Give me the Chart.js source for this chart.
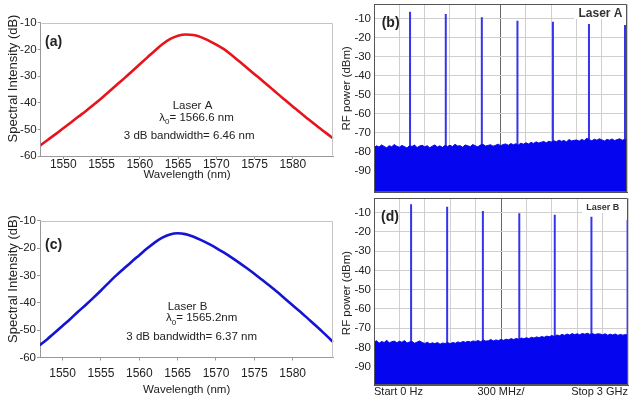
<!DOCTYPE html>
<html>
<head>
<meta charset="utf-8">
<script src="https://cdn.jsdelivr.net/npm/chart.js@4.4.0/dist/chart.umd.min.js"></script>
<style>
  body { margin: 0; background: #fff; width: 636px; height: 405px; position: relative; overflow: hidden; }
  canvas { position: absolute; }
</style>
</head>
<body>
<canvas id="chartA" style="left:0;top:0" width="338" height="200"></canvas>
<canvas id="chartB" style="left:338px;top:0" width="298" height="197"></canvas>
<canvas id="chartC" style="left:0;top:200px" width="338" height="205"></canvas>
<canvas id="chartD" style="left:338px;top:197px" width="298" height="208"></canvas>
<script>
// --- DATA: optical spectra ---
const wavelengthsNm = [1547, 1548, 1549, 1550, 1551, 1552, 1553, 1554, 1555, 1556,
  1557, 1558, 1559, 1560, 1561, 1562, 1563, 1564, 1565, 1566,
  1567, 1568, 1569, 1570, 1571, 1572, 1573, 1574, 1575, 1576,
  1577, 1578, 1579, 1580, 1581, 1582, 1583, 1584, 1585, 1585.3];
const laserA_dB = [-56.0, -53.9, -51.8, -49.6, -47.4, -45.2, -43.0, -40.7, -38.3, -35.8,
  -33.3, -30.8, -28.2, -25.6, -23.0, -20.4, -18.0, -16.1, -14.9, -14.4,
  -14.6, -15.4, -16.7, -18.2, -19.9, -22.1, -24.5, -26.9, -29.3, -31.7,
  -34.1, -36.6, -39.0, -41.4, -43.8, -46.1, -48.4, -50.6, -52.8, -53.5];
const laserB_dB = [-55.5, -53.3, -50.9, -48.4, -45.9, -43.3, -40.8, -38.2, -35.5, -32.7,
  -30.0, -27.5, -25.0, -22.6, -20.2, -18.0, -16.2, -15.0, -14.6, -14.9,
  -15.8, -17.0, -18.4, -19.9, -21.6, -23.4, -25.3, -27.3, -29.4, -31.6,
  -33.8, -36.1, -38.5, -40.9, -43.3, -45.8, -48.3, -50.9, -53.6, -54.4];
const wavelengthTicks = [1550, 1555, 1560, 1565, 1570, 1575, 1580];
const opticalDbTicks = [-60, -50, -40, -30, -20, -10];

// --- DATA: RF spectra (0 - 3 GHz) ---
const floorStepGHz = 0.03;
const floorB_dBm = [-77.8, -76.9, -77.5, -76.4, -77.2, -77.9, -76.8, -77.4, -76.2, -77.1,
  -77.6, -76.7, -77.3, -78.0, -76.9, -77.2, -76.5, -77.8, -77.0, -76.6,
  -77.4, -76.8, -77.9, -77.1, -76.4, -77.5, -76.9, -77.7, -76.7, -77.2,
  -76.6, -77.3, -76.1, -77.0, -76.8, -77.6, -76.4, -76.9, -77.3, -76.2,
  -76.9, -77.4, -76.5, -76.1, -77.0, -76.7, -76.3, -77.1, -76.6, -76.0,
  -76.8, -76.2, -75.9, -76.6, -75.7, -76.3, -75.8, -76.4, -75.5, -76.0,
  -75.3, -75.9, -75.1, -75.6, -74.8, -75.4, -75.0, -74.6, -75.3, -74.5,
  -74.9, -74.2, -74.7, -73.9, -74.5, -74.1, -74.8, -73.6, -74.3, -74.0,
  -73.8, -74.4, -73.5, -74.1, -72.9, -73.7, -74.2, -73.4, -73.9, -73.2,
  -73.8, -74.3, -73.5, -73.9, -73.3, -74.1, -73.6, -73.2, -73.9, -73.5,
  -73.7];
const floorD_dBm = [-77.2, -76.5, -77.8, -76.9, -77.4, -76.3, -77.6, -77.0, -76.7, -77.5,
  -76.8, -77.3, -76.4, -77.7, -77.1, -76.9, -77.8, -77.2, -76.6, -77.4,
  -77.9, -77.3, -78.1, -77.6, -78.0, -77.4, -78.3, -77.7, -77.9, -77.5,
  -78.0, -77.4, -77.8, -77.1, -77.5, -76.9, -77.3, -76.8, -77.2, -76.6,
  -76.9, -76.4, -77.0, -76.2, -76.7, -76.5, -75.9, -76.6, -76.1, -76.4,
  -75.8, -76.3, -75.7, -76.0, -75.4, -75.9, -75.3, -75.7, -75.1, -75.5,
  -74.9, -75.4, -74.7, -75.1, -74.5, -74.9, -74.3, -74.7, -74.1, -74.4,
  -73.8, -74.3, -73.5, -73.9, -73.2, -73.7, -73.0, -73.5, -72.8, -73.3,
  -72.9, -73.4, -72.7, -73.1, -72.6, -73.2, -72.8, -73.3, -72.9, -73.0,
  -73.4, -72.9, -73.6, -73.1, -73.5, -73.0, -73.7, -73.2, -73.6, -73.3,
  -73.5];
const peakFreqB_GHz = [0.427, 0.850, 1.277, 1.699, 2.119, 2.546, 2.973];
const peakLevelB_dBm = [-6.2, -7.4, -9.1, -10.9, -11.4, -12.6, -13.2];
const peakFreqD_GHz = [0.438, 0.864, 1.286, 1.716, 2.135, 2.568, 2.995];
const peakLevelD_dBm = [-5.6, -6.9, -9.1, -10.3, -11.0, -12.1, -13.8];
const freqTicksGHz = [0, 0.3, 0.6, 0.9, 1.2, 1.5, 1.8, 2.1, 2.4, 2.7, 3.0];
const freqTickLabels = ['Start 0 Hz', '', '', '', '', '300 MHz/', '', '', '', '', 'Stop 3 GHz'];
const rfDbTicks = [-90, -80, -70, -60, -50, -40, -30, -20, -10];

// --- SHARED SETUP ---
const FAMILY = 'Arial, "Liberation Sans", sans-serif';
Chart.defaults.font.family = FAMILY;
Chart.defaults.color = '#222';

const fixedTicks = (values) => (scale) => { scale.ticks = values.map(v => ({ value: v })); };

// fixed axis size, and no extra room reserved for the end labels
const fixSize = (prop, size) => (scale) => {
  scale[prop] = size;
  scale.paddingTop = 0; scale.paddingBottom = 0;
  scale.paddingLeft = 0; scale.paddingRight = 0;
};

// frame, y title and text overlays for each panel
const panelDecor = {
  id: 'panelDecor',
  afterDatasetsDraw(chart, args, opts) {
    const { ctx, chartArea: a } = chart;
    const L = Math.round(a.left) + 0.5, R = Math.round(a.right) - 0.5;
    const T = Math.round(a.top) + 0.5, B = Math.round(a.bottom) - 0.5;
    ctx.save();
    ctx.lineWidth = 1;
    ctx.strokeStyle = opts.frameColor;
    ctx.beginPath();
    if (opts.fullFrame) {
      ctx.rect(L, T, R - L, B - T);
    } else {
      ctx.moveTo(L, T); ctx.lineTo(R, T); ctx.lineTo(R, B);
    }
    ctx.stroke();

    ctx.textBaseline = 'middle';
    if (opts.yTitle) {
      const t = opts.yTitle;
      ctx.save();
      ctx.translate(t.x, t.y);
      ctx.rotate(-Math.PI / 2);
      ctx.font = t.font; ctx.textAlign = 'center'; ctx.fillStyle = '#222';
      ctx.fillText(t.text, 0, 0);
      ctx.restore();
    }

    (opts.texts || []).forEach(t => {
      ctx.font = t.font;
      ctx.textAlign = t.align || 'center';
      if (t.box) {
        ctx.fillStyle = '#fff';
        ctx.fillRect(t.box[0], t.box[1], t.box[2], t.box[3]);
      }
      ctx.fillStyle = t.color || '#222';
      ctx.fillText(t.text, t.x, t.y);
    });

    // λ0 line with a real subscript
    if (opts.lambda) {
      const l = opts.lambda;
      const big = '11.5px ' + FAMILY;
      const small = '8px ' + FAMILY;
      ctx.font = big; const w1 = ctx.measureText('λ').width;
      const w3 = ctx.measureText(l.rest).width;
      ctx.font = small; const w2 = ctx.measureText('0').width;
      let x = l.x - (w1 + w2 + w3) / 2;
      ctx.textAlign = 'left';
      ctx.fillStyle = '#222';
      ctx.font = big; ctx.fillText('λ', x, l.y); x += w1;
      ctx.font = small; ctx.fillText('0', x, l.y + 4); x += w2;
      ctx.font = big; ctx.fillText(l.rest, x, l.y);
    }
    ctx.restore();
  }
};

// --- OPTICAL SPECTRUM PANELS ---
function opticalChart(id, values, color, cfg) {
  return new Chart(document.getElementById(id), {
    type: 'line',
    data: {
      datasets: [{
        data: wavelengthsNm.map((x, i) => ({ x: x, y: values[i] })),
        borderColor: color,
        borderWidth: 2.6,
        pointRadius: 0,
        cubicInterpolationMode: 'monotone'
      }]
    },
    options: {
      responsive: false, animation: false, devicePixelRatio: 1,
      layout: { padding: cfg.padding },
      plugins: {
        legend: { display: false },
        tooltip: { enabled: false },
        panelDecor: {
          frameColor: '#c4c4c4', texts: cfg.texts, lambda: cfg.lambda,
          yTitle: { text: 'Spectral Intensity (dB)', x: 13.3, y: cfg.yTitleY, font: '13px ' + FAMILY }
        }
      },
      scales: {
        x: {
          type: 'linear', min: 1547.05, max: 1585.3,
          afterBuildTicks: fixedTicks(wavelengthTicks),
          afterFit: fixSize('height', cfg.xHeight),
          grid: { drawOnChartArea: false, tickLength: 3, color: '#999' },
          border: { color: '#999' },
          ticks: { padding: cfg.xTickPad, font: { size: 12 }, color: '#222', callback: v => String(v) },
          title: { display: true, text: 'Wavelength (nm)', padding: 0, font: { size: 11.5 }, color: '#222' }
        },
        y: {
          min: -60, max: -10,
          afterBuildTicks: fixedTicks(opticalDbTicks),
          afterFit: fixSize('width', cfg.yWidth),
          grid: { drawOnChartArea: false, tickLength: 3, color: '#999' },
          border: { color: '#999' },
          ticks: { padding: 1, font: { size: 11.5 }, color: '#222', callback: v => String(v) }
        }
      }
    },
    plugins: [panelDecor]
  });
}

// --- RF SPECTRUM PANELS ---
function peakSegments(freqs, levels, base) {
  const pts = [];
  freqs.forEach((f, i) => { pts.push({ x: f, y: base }, { x: f, y: levels[i] }, { x: f, y: null }); });
  return pts;
}

function rfChart(id, floor, peakFreqs, peakLevels, cfg) {
  return new Chart(document.getElementById(id), {
    type: 'line',
    data: {
      datasets: [
        {
          data: floor.map((v, i) => ({ x: i * floorStepGHz, y: v })),
          borderColor: '#0a0af2', backgroundColor: '#0505f0', borderWidth: 1,
          pointRadius: 0, fill: 'start'
        },
        {
          // drawn first, so the floor fill hides the part below the noise
          data: peakSegments(peakFreqs, peakLevels, -85),
          borderColor: '#3434ec', borderWidth: 2, pointRadius: 0, spanGaps: false
        }
      ]
    },
    options: {
      responsive: false, animation: false, devicePixelRatio: 1,
      layout: { padding: cfg.padding },
      plugins: {
        legend: { display: false },
        tooltip: { enabled: false },
        panelDecor: {
          frameColor: '#555', fullFrame: true, texts: cfg.texts,
          yTitle: { text: 'RF power (dBm)', x: 8.7, y: cfg.yTitleY, font: '11.5px ' + FAMILY }
        }
      },
      scales: {
        x: {
          type: 'linear', min: 0, max: 3,
          afterBuildTicks: fixedTicks(freqTicksGHz),
          afterFit: fixSize('height', cfg.xHeight),
          grid: { drawTicks: false, color: ctx => ctx.index === 5 ? '#666' : '#cfcfcf' },
          border: { color: '#555' },
          ticks: {
            display: cfg.showFreqLabels, padding: cfg.xTickPad, align: 'inner', maxRotation: 0, autoSkip: false,
            font: { size: 11 }, color: '#222',
            callback: (v, i) => freqTickLabels[i]
          }
        },
        y: {
          min: cfg.yMin, max: cfg.yMax,
          afterBuildTicks: fixedTicks(rfDbTicks),
          afterFit: fixSize('width', 36),
          grid: { drawTicks: false, color: '#cfcfcf' },
          border: { color: '#555' },
          ticks: { padding: 3, font: { size: 11.5 }, color: '#222', callback: v => String(v) }
        }
      }
    },
    plugins: [panelDecor]
  });
}

const BOLD14 = 'bold 14px ' + FAMILY;
const NOTE = '11.5px ' + FAMILY;

opticalChart('chartA', laserA_dB, '#e8141c', {
  padding: { left: 0, top: 22.7, right: 4.7, bottom: 18.1 },
  xHeight: 25.9, yWidth: 40.7, xTickPad: -2, yTitleY: 78.5,
  texts: [
    { text: '(a)', x: 45, y: 41.7, font: BOLD14, align: 'left' },
    { text: 'Laser A', x: 192.5, y: 106, font: NOTE },
    { text: '3 dB bandwidth= 6.46 nm', x: 189.2, y: 136, font: NOTE }
  ],
  lambda: { x: 196.5, y: 118, rest: '= 1566.6 nm' }
});

opticalChart('chartC', laserB_dB, '#1414d2', {
  padding: { left: 0, top: 20.7, right: 4.7, bottom: 8.4 },
  xHeight: 39.1, yWidth: 40, xTickPad: 6, yTitleY: 79,
  texts: [
    { text: '(c)', x: 45, y: 45, font: BOLD14, align: 'left' },
    { text: 'Laser B', x: 187.5, y: 107.3, font: NOTE },
    { text: '3 dB bandwidth= 6.37 nm', x: 191.7, y: 136.7, font: NOTE }
  ],
  lambda: { x: 201.7, y: 118.3, rest: '= 1565.2nm' }
});

rfChart('chartB', floorB_dBm, peakFreqB_GHz, peakLevelB_dBm, {
  padding: { left: 0, top: 4, right: 8.7, bottom: 4.7 },
  xHeight: 0, xTickPad: 0, showFreqLabels: false, yMin: -101.4, yMax: -2.1, yTitleY: 88.3,
  texts: [
    { text: '(b)', x: 43.7, y: 22.7, font: BOLD14, align: 'left' },
    { text: 'Laser A', x: 262.5, y: 13.3, font: 'bold 12px ' + FAMILY, color: '#333', box: [236, 5, 52, 14] }
  ]
});

rfChart('chartD', floorD_dBm, peakFreqD_GHz, peakLevelD_dBm, {
  padding: { left: 0, top: 1.3, right: 8, bottom: 0 },
  xHeight: 20, xTickPad: 0, showFreqLabels: true, yMin: -99.5, yMax: -2.5, yTitleY: 96,
  texts: [
    { text: '(d)', x: 43, y: 19.7, font: BOLD14, align: 'left' },
    { text: 'Laser B', x: 264.7, y: 10.7, font: 'bold 9px ' + FAMILY, color: '#333', box: [244, 2, 45, 14] }
  ]
});
</script>
</body>
</html>
